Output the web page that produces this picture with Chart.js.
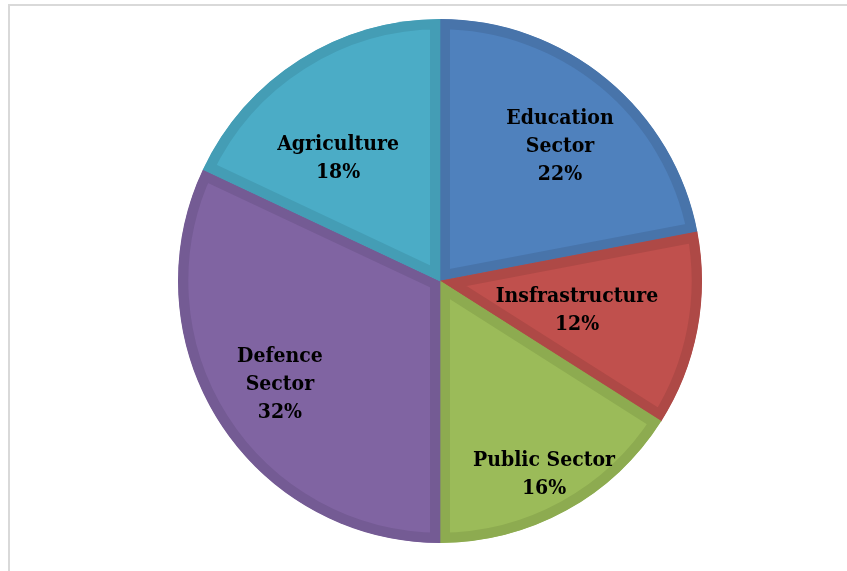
<!DOCTYPE html>
<html>
<head>
<meta charset="utf-8">
<script src="https://cdn.jsdelivr.net/npm/chart.js@4.4.0/dist/chart.umd.min.js"></script>
<style>
    html, body { margin: 0; padding: 0; background: #fff; }
    #box { position: relative; width: 847px; height: 571px; }
    #moldura { position: absolute; left: 8px; top: 4px; right: 0; bottom: 0;
        border-top: 2px solid #d9d9d9; border-left: 2px solid #d9d9d9; }
    canvas { position: absolute; left: 0; top: 0; }
</style>
</head>
<body>
<div id="box">
    <div id="moldura"></div>
    <canvas id="chartSetores" width="847" height="571"></canvas>
</div>
<script>
const setores = [['Education', 'Sector'], ['Insfrastructure'], ['Public Sector'], ['Defence', 'Sector'], ['Agriculture']]
const percentuais = [22, 12, 16, 32, 18]
const cores = ['#4f81bd', '#c0504d', '#9bbb59', '#8064a2', '#4bacc6']
const bordas = ['#4874aa', '#ae4946', '#8dab50', '#745b94', '#449db5']

// onde o Excel deixou cada rotulo: deslocamento do centro, em fracao do raio
const posRotulo = [[0.458, -0.515], [0.523, 0.113], [0.397, 0.737], [-0.611, 0.397], [-0.389, -0.469]]

const rotulos = {
    id: 'rotulos',
    afterDatasetsDraw: chart => {
        const ctx = chart.ctx
        const arcos = chart.getDatasetMeta(0).data
        const alt = 28
        const aperto = 0.9  // fonte um pouco condensada, parecido com Cambria
        ctx.save()
        ctx.font = 'bold 21px "DejaVu Serif", serif'
        ctx.fillStyle = '#000'
        ctx.textAlign = 'center'
        ctx.textBaseline = 'middle'
        arcos.forEach((arco, i) => {
            const x = arco.x + posRotulo[i][0] * arco.outerRadius
            const y = arco.y + posRotulo[i][1] * arco.outerRadius
            const linhas = setores[i].concat([percentuais[i] + '%'])
            linhas.forEach((linha, j) => {
                ctx.save()
                ctx.translate(x, y + (j - (linhas.length - 1) / 2) * alt)
                ctx.scale(aperto, 1)
                ctx.fillText(linha, 0, 0)
                ctx.restore()
            })
        })
        ctx.restore()
    }
}

var ctx1 = document.getElementById('chartSetores').getContext('2d')

var chartPizza = new Chart(ctx1, {
    type: 'pie',
    data: {
        labels: setores.map(s => s.join(' ')),
        datasets: [{
            data: percentuais,
            backgroundColor: cores,
            borderColor: bordas,
            borderWidth: 10,
            borderAlign: 'inner',
            hoverOffset: 0
        }]
    },
    options: {
        responsive: false,
        animation: false,
        layout: { padding: { left: 178, right: 145, top: 19, bottom: 28 } },
        plugins: {
            legend: { display: false },
            tooltip: { enabled: false }
        }
    },
    plugins: [rotulos]
})
</script>
</body>
</html>
